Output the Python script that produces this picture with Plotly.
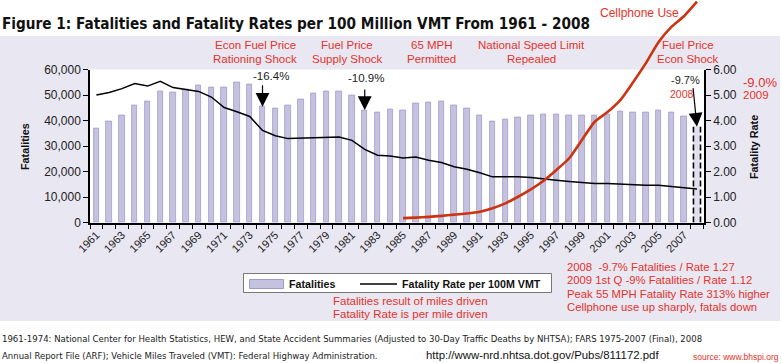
import plotly.graph_objects as go

# ---------------- data ----------------
years = list(range(1961, 2009))
fatalities = [36670, 39500, 42150, 46080, 47400, 51570, 51060, 52350, 53900, 53000,
              53000, 54980, 54300, 45400, 44900, 46080, 48430, 50500, 51570, 51570,
              49880, 44100, 43060, 44400, 44100, 46600, 47000, 47500, 46080, 44900,
              42040, 39800, 40470, 41000, 42040, 42550, 42430, 42040, 42040, 42040,
              42430, 43450, 43060, 43060, 44100, 43060, 41500, 37570]
rates = [5.00, 5.10, 5.25, 5.45, 5.35, 5.54, 5.29, 5.21, 5.14, 4.92,
         4.51, 4.34, 4.16, 3.61, 3.40, 3.29, 3.31, 3.31, 3.35, 3.35,
         3.22, 2.87, 2.64, 2.61, 2.53, 2.57, 2.44, 2.35, 2.19, 2.09,
         1.95, 1.79, 1.79, 1.79, 1.76, 1.72, 1.66, 1.61, 1.56, 1.53,
         1.53, 1.50, 1.48, 1.46, 1.46, 1.41, 1.37, 1.31]
cell_years = list(range(1985, 2009))
cell_use = [0.17, 0.19, 0.22, 0.26, 0.31, 0.35, 0.42, 0.56, 0.75, 1.01,
            1.30, 1.64, 2.06, 2.52, 3.24, 3.95, 4.33, 4.80, 5.50, 6.25,
            7.08, 7.67, 8.10, 8.66]
shock_years = [1974, 1982, 2008]
shock_labels = ["-16.4%", "-10.9%", "-9.7%"]

# ---------------- geometry helpers ----------------
W, H = 782, 363
def px(x):
    return x / W
def py(y):
    return 1 - y / H

BAR = "rgb(197,194,224)"
BAR_LINE = "rgb(160,154,204)"
LAV = "rgb(233,231,242)"
RED = "rgb(230,50,42)"
REDLINE = "rgb(204,52,16)"
SANS = "Liberation Sans, Arial, Helvetica, sans-serif"
NARROW = "DejaVu Sans Condensed, Liberation Sans Narrow, sans-serif"

last = years[-1]
bar_colors = [BAR if y != last else "rgb(226,224,240)" for y in years]
bar_lines = [0.8 if y != last else 0 for y in years]
bar_widths = [0.43 if y != last else 0.55 for y in years]

fig = go.Figure()
fig.add_trace(go.Bar(x=years, y=fatalities, width=bar_widths, name="Fatalities",
                     marker=dict(color=bar_colors, line=dict(color=BAR_LINE, width=bar_lines)),
                     yaxis="y", xaxis="x"))
# dashed outline for the last (partial) bar
hw = 0.55 / 2
v_last = fatalities[-1]
fig.add_trace(go.Scatter(x=[last - hw, last - hw, None, last + hw, last + hw],
                         y=[0, v_last, None, 0, v_last], mode="lines",
                         line=dict(color="black", width=1.6, dash="6px,3px"),
                         yaxis="y", xaxis="x", hoverinfo="skip"))
fig.add_trace(go.Scatter(x=years, y=rates, mode="lines", name="Fatality Rate per 100M VMT",
                         line=dict(color="black", width=1.5), yaxis="y2", xaxis="x"))
fig.add_trace(go.Scatter(x=cell_years, y=cell_use, mode="lines", name="Cellphone Use",
                         line=dict(color=REDLINE, width=2.6, shape="spline", smoothing=0.6),
                         yaxis="y3", xaxis="x"))

y0, ytop = 222.5, 69.5
fig.update_layout(
    width=W, height=H, margin=dict(l=0, r=0, t=0, b=0, autoexpand=False),
    paper_bgcolor="white", plot_bgcolor="rgba(0,0,0,0)", showlegend=False,
    font=dict(family=SANS, size=12, color="#222"),
    bargap=0,
    xaxis=dict(domain=[px(90), px(704)], range=[1960.5, 2008.55], anchor="y", automargin=False,
               tickmode="linear", tick0=1961, dtick=2, tickformat="d", ticks="",
               tickangle=-45, tickfont=dict(size=11, color="#222"),
               showline=True, linecolor="black", linewidth=1.5, showgrid=False, zeroline=False,
               minor=dict(tick0=1960.5, dtick=1, ticks="outside", ticklen=5,
                          tickcolor="black", tickwidth=1, showgrid=False)),
    yaxis=dict(domain=[py(y0), py(ytop)], range=[0, 60000], anchor="x", side="left", automargin=False,
               tickmode="linear", tick0=0, dtick=10000, tickformat=",",
               ticks="outside", ticklen=5, tickcolor="black", tickfont=dict(size=12, color="#222"),
               showline=True, linecolor="black", linewidth=1.5, showgrid=False, zeroline=False),
    yaxis2=dict(overlaying="y", side="right", anchor="x", range=[0, 6], automargin=False,
                tickmode="linear", tick0=0, dtick=1, tickformat=".2f",
                ticks="outside", ticklen=5, tickcolor="black", tickfont=dict(size=12, color="#222"),
                showline=True, linecolor="black", linewidth=1.5, showgrid=False, zeroline=False),
    yaxis3=dict(domain=[py(y0), 1], anchor="x", range=[0, y0 / ((y0 - ytop) / 6)], automargin=False,
                visible=False, showgrid=False, zeroline=False),
)

shapes = [
    dict(type="rect", xref="paper", yref="paper", x0=0, x1=px(780), y0=py(321), y1=py(36),
         fillcolor=LAV, line=dict(width=0), layer="below"),
    dict(type="rect", xref="paper", yref="paper", x0=px(90), x1=px(704), y0=py(y0), y1=py(ytop),
         fillcolor="white", line=dict(width=0), layer="below"),
    # legend box
    dict(type="rect", xref="paper", yref="paper", x0=px(243.5), x1=px(551.5), y0=py(292.5), y1=py(273.5),
         fillcolor="white", line=dict(color="#777", width=1)),
    dict(type="rect", xref="paper", yref="paper", x0=px(249.5), x1=px(283.5), y0=py(288.5), y1=py(279.5),
         fillcolor=BAR, line=dict(color=BAR_LINE, width=1)),
    dict(type="line", xref="paper", yref="paper", x0=px(360), x1=px(397), y0=py(284), y1=py(284),
         line=dict(color="black", width=1.5)),
]
fig.update_layout(shapes=shapes)

anns = []
def ann(text, x, y, size=12, color="#222", xanchor="center", family=SANS, angle=0):
    anns.append(dict(text=text, x=px(x), y=py(y), xref="paper", yref="paper",
                     xanchor=xanchor, yanchor="middle", showarrow=False, textangle=angle,
                     borderpad=0, font=dict(size=size, color=color, family=family)))

ann("<b>Figure 1: Fatalities and Fatality Rates per 100 Million VMT From 1961 - 2008</b>",
    1, 24, size=15.2, color="#111", xanchor="left", family=NARROW)
ann("Cellphone Use", 639, 13, size=12, color=RED)
for t1, t2, cx in [("Econ Fuel Price", "Rationing Shock", 255),
                   ("Fuel Price", "Supply Shock", 347),
                   ("65 MPH", "Permitted", 432),
                   ("National Speed Limit", "Repealed", 531),
                   ("Fuel Price", "Econ Shock", 688)]:
    ann(t1, cx, 45, size=11.5, color=RED)
    ann(t2, cx, 59, size=11.5, color=RED)

ann(shock_labels[0], 271, 76.5, size=11.5)
ann(shock_labels[1], 366, 77.5, size=11.5)
ann(shock_labels[2], 685, 80.5, size=11)
ann("2008", 682, 93.5, size=10.5, color=RED)
ann("-9.0%", 760, 82, size=13, color=RED)
ann("2009", 755.5, 94.5, size=11.5, color=RED)

ann("<b>Fatalities</b>", 25, 147, size=10.8, color="#111", angle=-90)
ann("<b>Fatality Rate</b>", 754, 147, size=10.8, color="#111", angle=-90)

ann("<b>Fatalities</b>", 288, 283.5, size=10.7, color="#111", xanchor="left")
ann("<b>Fatality Rate per 100M VMT</b>", 401, 283.5, size=10.7, color="#111", xanchor="left")

ann("Fatalities result of miles driven", 332, 300.5, size=11.5, color=RED, xanchor="left")
ann("Fatality Rate is per mile driven", 332, 313.5, size=11.5, color=RED, xanchor="left")

for i, t in enumerate(["2008  -9.7% Fatalities / Rate 1.27",
                       "2009 1st Q -9% Fatalities / Rate 1.12",
                       "Peak 55 MPH Fatality Rate 313% higher",
                       "Cellphone use up sharply, fatals down"]):
    ann(t, 566, 267 + i * 13.3, size=11.3, color=RED, xanchor="left")

ann("1961-1974: National Center for Health Statistics, HEW, and State Accident Summaries (Adjusted to 30-Day Traffic Deaths by NHTSA); FARS 1975-2007 (Final), 2008",
    1, 338, size=9.5, color="#222", xanchor="left", family=NARROW)
ann("Annual Report File (ARF); Vehicle Miles Traveled (VMT): Federal Highway Administration.",
    1, 355, size=9.5, color="#222", xanchor="left", family=NARROW)
ann("http://www-nrd.nhtsa.dot.gov/Pubs/811172.pdf", 425, 355, size=11.4, color="#111", xanchor="left")
ann("source: www.bhspi.org", 780, 356.5, size=8.5, color=RED, xanchor="right")

# arrows pointing at the bars of the shock years
offsets = {1974: (0, -23), 1982: (0, -22), 2008: (-4, -40)}
for yr in shock_years:
    v = fatalities[years.index(yr)]
    ax_, ay_ = offsets[yr]
    anns.append(dict(text="", x=yr, y=v, xref="x", yref="y", showarrow=True,
                     ax=ax_, ay=ay_, arrowhead=2, arrowsize=2.3,
                     arrowwidth=1.2, arrowcolor="black", standoff=0))

fig.update_layout(annotations=anns)
fig.write_html("out.html", config={"displayModeBar": False},
               post_script="document.body.style.margin='0';document.body.style.overflow='hidden';")
